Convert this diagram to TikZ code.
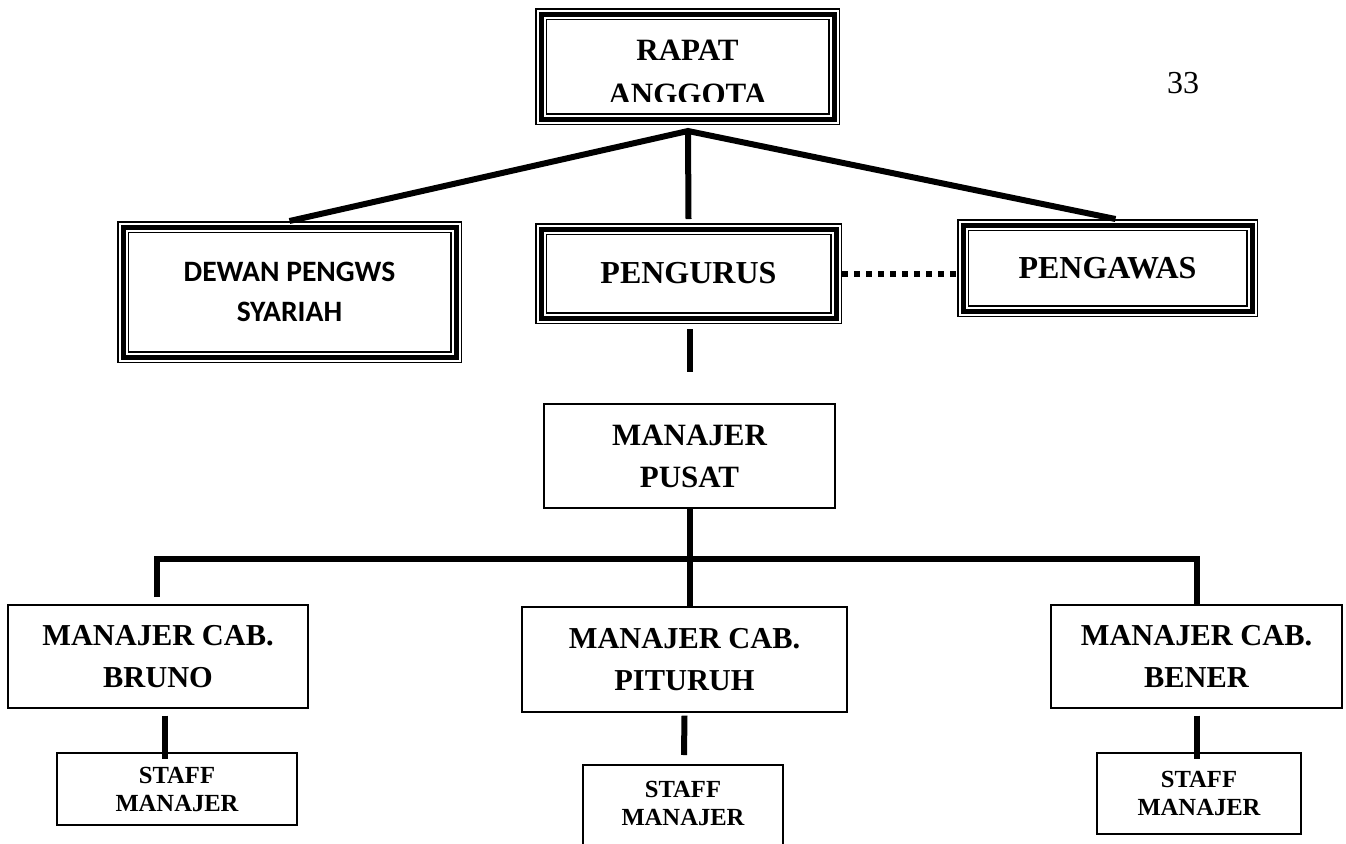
\documentclass[tikz,border=0pt]{standalone}
\usepackage{fontspec}
\setmainfont{Liberation Serif}
\newfontfamily\calib{Carlito}
\begin{document}
\begin{tikzpicture}[x=0.5pt,y=-0.5pt,
  frame3/.style={draw, line width=2.5pt,
    preaction={draw, line width=0.75pt, double=white, double distance=4.5pt},
    outer sep=3pt, inner sep=0pt, align=center},
  thinbox/.style={draw, line width=0.7pt, inner sep=0pt, align=center},
  conn/.style={line width=3pt},
  dotline/.style={line width=3pt, dash pattern=on 3pt off 3pt},
  bigtxt/.style={font=\fontsize{16}{21}\selectfont\bfseries},
  cabtxt/.style={font=\fontsize{15.2}{21}\selectfont\bfseries},
  stafftxt/.style={font=\fontsize{12.3}{14}\selectfont\bfseries}]
\useasboundingbox (0,0) rectangle (1346,843);

% top framed boxes
\node[frame3, minimum width=146.5pt, minimum height=52.5pt] (rapat) at (687.5,66.5) {};
\begin{scope}
  \clip (540,12) rectangle (835,101);
  \node[align=center, font=\fontsize{15.5}{22}\selectfont\bfseries] (rapattxt) at (687.5,72.5) {RAPAT\\ANGGOTA};
\end{scope}
\node[frame3, minimum width=166.5pt, minimum height=65pt,
  font=\calib\fontsize{14.8}{20}\selectfont\bfseries] (dewan) at (289.5,292) {DEWAN PENGWS\\SYARIAH};
\node[frame3, minimum width=147.5pt, minimum height=44.5pt, bigtxt] (peng) at (688.5,273.5) {PENGURUS};
\node[frame3, minimum width=144.5pt, minimum height=43pt, bigtxt] (pengawas) at (1107.5,268) {PENGAWAS};

\node[font=\fontsize{16}{18}\selectfont] (pg) at (1183,83) {33};

% managers
\node[thinbox, minimum width=145.5pt, minimum height=52pt,
  font=\fontsize{15.5}{21}\selectfont\bfseries] (pusat) at (689.5,456) {MANAJER\\PUSAT};
\node[thinbox, minimum width=150pt, minimum height=51.5pt, cabtxt] (bruno) at (158,656.5) {MANAJER CAB.\\BRUNO};
\node[thinbox, minimum width=162.5pt, minimum height=52.5pt, cabtxt] (pituruh) at (684.5,659.5) {MANAJER CAB.\\PITURUH};
\node[thinbox, minimum width=145.5pt, minimum height=51.5pt, cabtxt] (bener) at (1196.5,656.5) {MANAJER CAB.\\BENER};

% staff
\node[thinbox, minimum width=120pt, minimum height=36pt, stafftxt] (staffL) at (177,789) {STAFF\\MANAJER};
\node[thinbox, minimum width=100pt, minimum height=52pt] (staffM) at (683,817) {};
\node[align=center, stafftxt] (staffMtxt) at (683,803.5) {STAFF\\MANAJER};
\node[thinbox, minimum width=102pt, minimum height=40.5pt, stafftxt] (staffR) at (1199,793.5) {STAFF\\MANAJER};

% connectors top
\coordinate (j) at (688,131);
\draw[conn, line join=miter] (dewan.north) -- (j) -- ([xshift=4pt]pengawas.north);
\draw[conn] (j) -- ([yshift=2pt]peng.north);
\draw[dotline] (peng.east) -- (peng.east -| pengawas.west);
\coordinate (pb) at (690,372);
\draw[conn] ([xshift=0.75pt,yshift=-2.5pt]peng.south) -- (pb);

% connectors bottom
\draw[conn] (pusat.south) -- (pusat.south |- pituruh.north);
\coordinate (bl) at (157,597);
\coordinate (barL) at (157,559);
\coordinate (barR) at (1197,559);
\draw[conn, line join=miter] (bl) -- (barL) -- (barR) -- (barR |- bener.north);
\draw[conn] ([xshift=3.5pt,yshift=-3.5pt]bruno.south) -- ([xshift=3.5pt,yshift=-3.5pt]bruno.south |- staffL.north);
\coordinate (mb) at (684,755);
\draw[conn] ([yshift=-1.5pt]pituruh.south) -- (mb);
\draw[conn] ([yshift=-3.5pt]bener.south) -- ([yshift=-3.5pt]bener.south |- staffR.north);
\end{tikzpicture}
\end{document}
